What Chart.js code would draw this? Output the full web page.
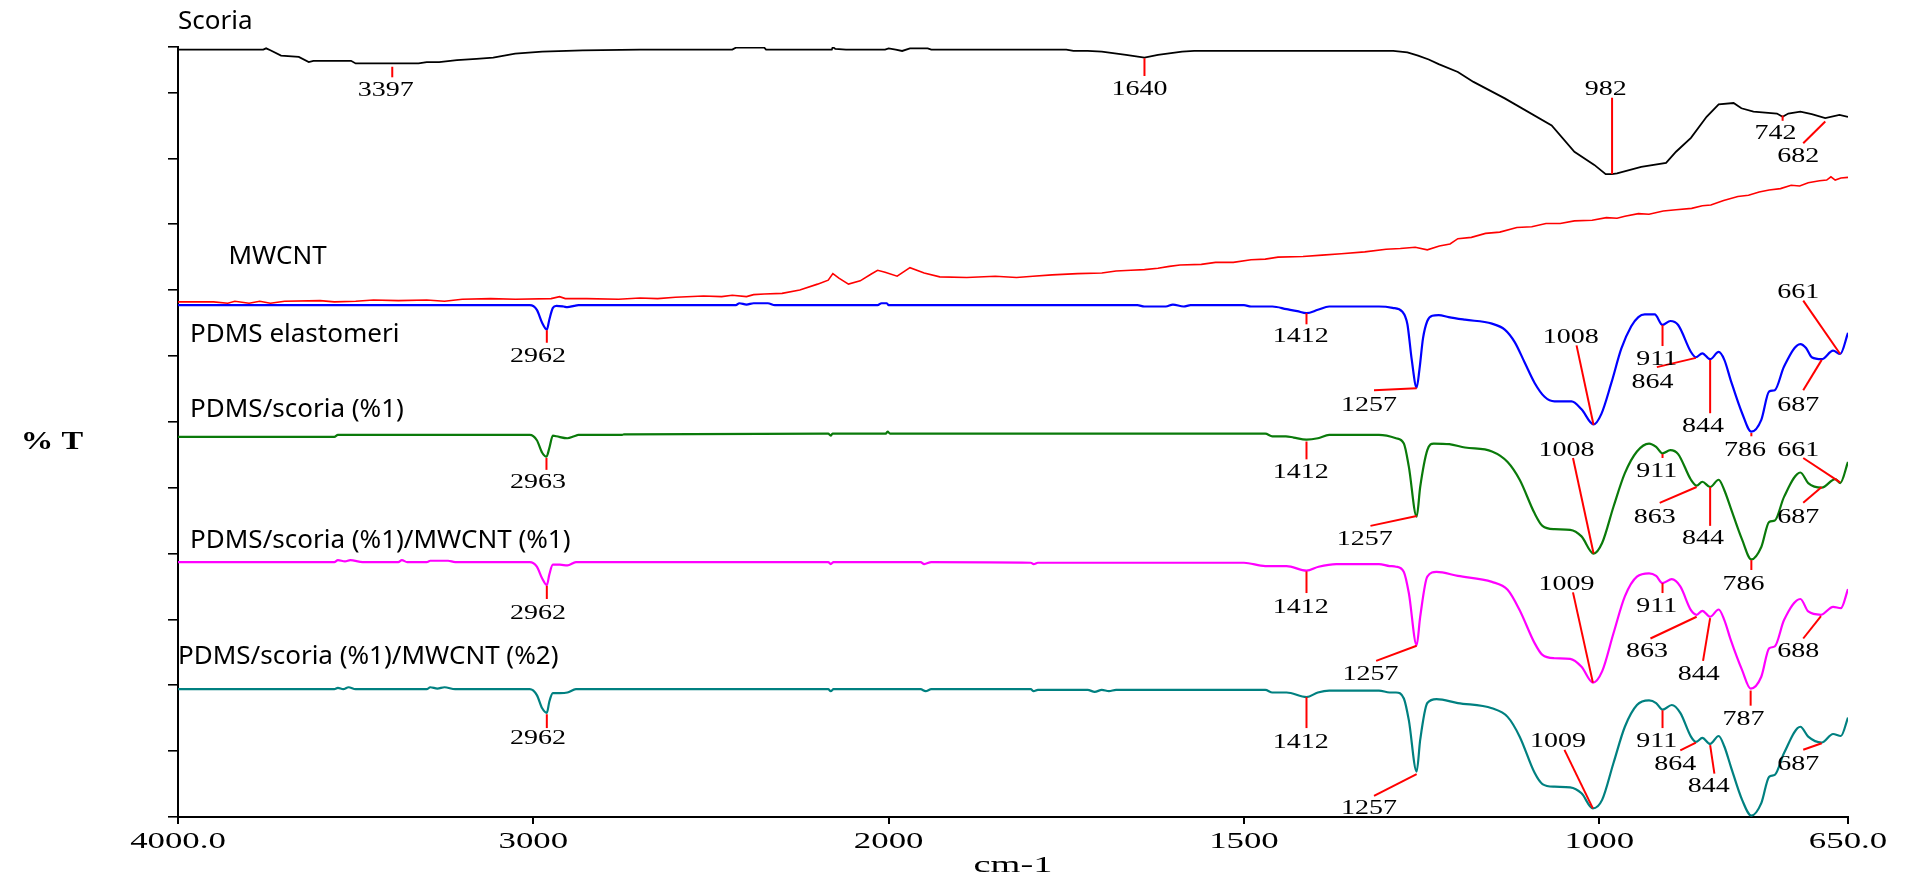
<!DOCTYPE html>
<html>
<head>
<meta charset="utf-8">
<title>FTIR</title>
<script src="https://cdn.jsdelivr.net/npm/chart.js@4.4.1/dist/chart.umd.min.js"></script>
<style>
  html, body { margin: 0; padding: 0; background: #fff; }
</style>
</head>
<body>
<canvas id="ftirChart" width="1912" height="880"></canvas>
<script>
// Stacked FTIR spectra, %T in arbitrary offset units (one axis tick = 10)

const xTicks = [4000, 3000, 2000, 1500, 1000, 650];
const xTickLabels = ['4000.0', '3000', '2000', '1500', '1000', '650.0'];
const yTicks = [0, 10, 20, 30, 40, 50, 60, 70, 80, 90, 100, 110, 116.9];

const scoriaWn = [4000, 3760, 3752, 3740, 3710, 3660, 3632, 3619, 3513, 3500, 3397, 3323, 3300, 3265, 3215, 3160, 3113, 3051, 2975, 2861, 2700, 2440, 2430, 2350, 2345, 2160, 2157, 2150, 2120, 2010, 2000, 1990, 1981, 1970, 1945, 1940, 1750, 1740, 1720, 1700, 1666, 1640, 1621, 1587, 1570, 1290, 1270, 1255, 1240, 1226, 1199, 1177, 1133, 1067, 1035, 1007, 991, 982, 975, 941, 906, 892, 871, 849, 832, 811, 800, 783, 750, 742, 734, 717, 701, 682, 662, 650];
const scoriaT = [116.5, 116.5, 116.7, 116.4, 115.6, 115.4, 114.6, 114.8, 114.8, 114.4, 114.4, 114.4, 114.6, 114.6, 114.9, 115.1, 115.3, 115.9, 116.2, 116.4, 116.5, 116.5, 116.8, 116.8, 116.5, 116.5, 116.9, 116.6, 116.5, 116.5, 116.7, 116.5, 116.3, 116.7, 116.7, 116.5, 116.5, 116.3, 116.3, 116.2, 115.7, 115.3, 115.7, 116.2, 116.3, 116.3, 116.1, 115.6, 115.0, 114.3, 113.1, 111.6, 109.1, 105.0, 101.0, 99.0, 97.6, 97.6, 97.7, 98.7, 99.3, 101.0, 103.1, 106.3, 108.2, 108.4, 107.6, 107.1, 106.8, 106.3, 106.8, 107.1, 106.7, 106.1, 106.6, 106.3];

const mwcntWn = [4000, 3900, 3860, 3840, 3800, 3770, 3740, 3700, 3600, 3560, 3500, 3450, 3380, 3300, 3250, 3200, 3120, 3050, 2950, 2926, 2910, 2850, 2760, 2700, 2650, 2600, 2521, 2470, 2440, 2400, 2380, 2350, 2300, 2250, 2200, 2170, 2157, 2140, 2113, 2080, 2050, 2031, 2010, 1988, 1970, 1950, 1928, 1890, 1850, 1820, 1797, 1770, 1734, 1700, 1680, 1659, 1640, 1621, 1605, 1590, 1560, 1540, 1515, 1490, 1470, 1452, 1417, 1390, 1363, 1330, 1300, 1280, 1259, 1242, 1225, 1210, 1199, 1180, 1160, 1140, 1116, 1095, 1075, 1055, 1035, 1010, 990, 975, 964, 945, 930, 910, 892, 870, 855, 843, 825, 805, 790, 775, 761, 745, 730, 718, 706, 690, 680, 674, 668, 660, 650];
const mwcntT = [78.2, 78.2, 78.0, 78.3, 78.0, 78.3, 78.0, 78.3, 78.4, 78.2, 78.3, 78.5, 78.4, 78.5, 78.3, 78.6, 78.7, 78.6, 78.7, 79.0, 78.7, 78.7, 78.6, 78.8, 78.7, 78.9, 79.1, 79.0, 79.2, 79.0, 79.3, 79.4, 79.5, 80.0, 80.9, 81.5, 82.5, 81.8, 80.9, 81.4, 82.4, 83.0, 82.7, 82.1, 83.4, 82.6, 82.0, 81.9, 82.1, 81.9, 82.1, 82.3, 82.5, 82.6, 82.9, 83.0, 83.1, 83.3, 83.6, 83.8, 83.9, 84.2, 84.2, 84.6, 84.7, 85.0, 85.1, 85.3, 85.5, 85.8, 86.2, 86.3, 86.5, 86.1, 86.7, 87.0, 87.8, 88.0, 88.6, 88.8, 89.5, 89.6, 90.1, 90.1, 90.5, 90.6, 91.0, 90.9, 91.2, 91.6, 91.5, 92.0, 92.2, 92.4, 92.8, 92.9, 93.6, 94.2, 94.4, 94.9, 95.2, 95.4, 95.9, 95.8, 96.3, 96.6, 96.7, 97.2, 96.7, 97.0, 97.1];

const pdmsWn = [4000, 3010, 2990, 2975, 2962, 2955, 2945, 2935, 2915, 2904, 2885, 2873, 2430, 2420, 2400, 2380, 2340, 2320, 2031, 2020, 2005, 2000, 1650, 1640, 1610, 1600, 1585, 1575, 1500, 1490, 1460, 1440, 1425, 1412, 1396, 1380, 1310, 1291, 1277, 1270, 1264, 1257, 1253, 1248, 1242, 1235, 1226, 1212, 1189, 1151, 1133, 1119, 1105, 1091, 1077, 1063, 1039, 1025, 1008, 997, 983, 969, 955, 945, 936, 922, 911, 900, 889, 871, 864, 855, 844, 832, 824, 815, 799, 786, 772, 761, 753, 740, 717, 709, 701, 687, 671, 661, 650];
const pdmsT = [77.7, 77.7, 77.0, 75.0, 74.0, 75.5, 77.3, 77.6, 77.5, 77.4, 77.6, 77.7, 77.7, 78.0, 77.8, 78.0, 78.0, 77.7, 77.7, 78.0, 78.0, 77.7, 77.7, 77.5, 77.5, 77.8, 77.5, 77.7, 77.7, 77.5, 77.5, 77.1, 76.8, 76.5, 77.0, 77.5, 77.5, 77.3, 76.7, 74.8, 69.5, 65.2, 68.0, 72.7, 75.3, 76.1, 76.2, 75.9, 75.5, 74.9, 74.0, 72.1, 69.0, 65.9, 63.8, 63.1, 63.1, 61.9, 59.6, 61.2, 65.9, 71.1, 74.5, 75.9, 76.3, 76.3, 74.7, 75.3, 74.7, 70.6, 69.8, 70.4, 69.5, 70.6, 69.4, 66.3, 61.3, 58.5, 60.3, 64.6, 64.8, 68.4, 71.8, 71.2, 69.8, 69.5, 70.8, 70.3, 73.5];

const scoria1Wn = [4000, 3560, 3550, 3010, 2990, 2975, 2963, 2955, 2945, 2935, 2904, 2885, 2873, 2750, 2745, 2170, 2163, 2158, 2008, 2003, 1998, 1470, 1460, 1441, 1430, 1412, 1396, 1380, 1310, 1286, 1275, 1268, 1257, 1252, 1242, 1233, 1211, 1189, 1151, 1129, 1112, 1091, 1080, 1063, 1041, 1025, 1008, 996, 980, 964, 947, 930, 920, 911, 900, 889, 871, 863, 855, 844, 832, 824, 815, 799, 786, 772, 761, 753, 740, 717, 706, 687, 668, 661, 650];
const scoria1T = [57.7, 57.7, 58.0, 58.0, 57.2, 55.3, 54.7, 56.0, 57.9, 57.8, 57.5, 57.8, 58.0, 58.0, 58.1, 58.2, 57.9, 58.2, 58.2, 58.5, 58.2, 58.2, 57.8, 57.8, 57.6, 57.3, 57.5, 58.0, 58.0, 57.5, 56.7, 53.2, 45.6, 50.1, 55.7, 56.7, 56.6, 56.1, 55.5, 53.9, 51.2, 46.1, 44.2, 43.7, 43.6, 42.6, 40.0, 41.6, 47.1, 52.2, 55.5, 56.7, 56.2, 55.2, 55.7, 55.1, 51.2, 50.3, 50.9, 50.1, 51.2, 49.6, 46.9, 42.1, 39.1, 41.0, 44.8, 45.0, 48.6, 52.3, 50.7, 50.0, 51.3, 50.7, 53.9];

const cnt1Wn = [4000, 3560, 3550, 3530, 3515, 3480, 3380, 3370, 3355, 3300, 3290, 3240, 3220, 3010, 2990, 2975, 2962, 2955, 2945, 2925, 2904, 2880, 2170, 2163, 2155, 1955, 1950, 1940, 1800, 1796, 1790, 1500, 1470, 1440, 1412, 1395, 1370, 1310, 1295, 1286, 1275, 1268, 1257, 1252, 1242, 1229, 1199, 1151, 1129, 1112, 1091, 1080, 1063, 1041, 1025, 1009, 996, 980, 964, 947, 930, 920, 911, 898, 886, 871, 863, 855, 844, 832, 824, 815, 799, 787, 772, 761, 753, 740, 717, 706, 688, 671, 660, 650];
const cnt1T = [38.7, 38.7, 39.0, 38.8, 39.0, 38.7, 38.7, 39.0, 38.7, 38.7, 38.9, 38.9, 38.7, 38.7, 38.0, 36.2, 35.2, 36.8, 38.3, 38.3, 38.2, 38.7, 38.7, 38.4, 38.7, 38.7, 38.4, 38.7, 38.6, 38.4, 38.6, 38.6, 38.1, 38.1, 37.4, 38.0, 38.4, 38.4, 38.1, 38.0, 37.2, 34.0, 26.1, 30.4, 36.5, 37.2, 36.6, 35.7, 34.5, 31.4, 26.4, 24.6, 24.1, 24.0, 22.8, 20.4, 22.1, 27.9, 33.5, 36.5, 37.0, 36.6, 35.5, 36.1, 35.0, 31.4, 30.7, 31.3, 30.4, 31.5, 29.9, 26.9, 22.3, 19.5, 21.3, 25.6, 25.9, 29.9, 33.1, 31.2, 30.7, 31.9, 31.7, 34.6];

const cnt2Wn = [4000, 3560, 3550, 3535, 3520, 3500, 3300, 3290, 3270, 3250, 3220, 3010, 2990, 2975, 2962, 2955, 2945, 2925, 2904, 2880, 2170, 2163, 2155, 1955, 1948, 1940, 1800, 1796, 1790, 1720, 1710, 1700, 1690, 1680, 1470, 1460, 1440, 1412, 1396, 1380, 1310, 1295, 1286, 1275, 1268, 1257, 1252, 1242, 1229, 1199, 1151, 1129, 1112, 1091, 1080, 1063, 1041, 1025, 1009, 996, 980, 964, 947, 930, 920, 911, 898, 886, 871, 864, 855, 844, 832, 824, 815, 799, 786, 772, 761, 753, 740, 717, 706, 687, 671, 660, 650];
const cnt2T = [19.4, 19.4, 19.6, 19.4, 19.7, 19.4, 19.4, 19.7, 19.5, 19.7, 19.4, 19.4, 18.5, 16.5, 15.8, 17.5, 18.8, 18.8, 18.9, 19.4, 19.4, 19.1, 19.4, 19.4, 19.1, 19.4, 19.4, 19.1, 19.3, 19.3, 19.0, 19.3, 19.1, 19.3, 19.3, 18.9, 18.9, 18.2, 18.9, 19.2, 19.2, 18.9, 18.9, 18.0, 14.7, 6.9, 11.7, 17.3, 17.9, 17.3, 16.5, 15.2, 12.2, 6.7, 5.0, 4.6, 4.5, 3.6, 1.3, 2.6, 8.2, 13.7, 17.0, 17.7, 17.3, 16.3, 17.0, 15.8, 12.2, 11.4, 12.0, 11.1, 12.3, 10.7, 7.7, 2.6, 0.2, 2.1, 6.1, 6.4, 9.7, 13.7, 12.2, 11.3, 12.6, 12.3, 15.1];

// series name, baseline start [wavenumber, T]
const seriesNames = [
  ['Scoria', 4000, 119.7],
  ['MWCNT', 3858, 84.0],
  ['PDMS elastomeri', 3966, 72.1],
  ['PDMS/scoria (%1)', 3966, 60.8],
  ['PDMS/scoria (%1)/MWCNT (%1)', 3966, 40.9],
  ['PDMS/scoria (%1)/MWCNT (%2)', 4000, 23.3]
];

// peak label, line tip [wn, T], line end [wn, T], label centre [wn, T]
const peakMarks = [
  ['3397', [3397, 113.9], [3397, 112.3], [3415, 110.2]],
  ['1640', [1640, 115.2], [1640, 112.5], [1647, 110.4]],
  ['982', [982, 97.6], [982, 109.2], [991, 110.4]],
  ['742', [742, 106.5], [742, 105.7], [752, 103.7]],
  ['682', [682, 105.6], [713, 102.3], [720, 100.2]],

  ['2962', [2962, 73.9], [2962, 72.0], [2987, 69.9]],
  ['1412', [1412, 76.5], [1412, 74.8], [1420, 72.9]],
  ['1257', [1257, 65.1], [1317, 64.8], [1324, 62.5]],
  ['1008', [1008, 59.5], [1032, 71.6], [1040, 72.8]],
  ['911', [911, 74.7], [911, 71.5], [919, 69.4]],
  ['864', [864, 69.7], [919, 68.3], [925, 65.9]],
  ['844', [844, 69.4], [844, 61.3], [854, 59.3]],
  ['786', [786, 58.3], [786, 57.8], [795, 55.6]],
  ['661', [661, 70.3], [713, 78.4], [720, 79.6]],
  ['687', [687, 69.4], [713, 64.8], [720, 62.5]],

  ['2963', [2963, 54.5], [2963, 52.7], [2987, 50.7]],
  ['1412', [1412, 57.0], [1412, 54.3], [1420, 52.3]],
  ['1257', [1257, 45.7], [1322, 44.2], [1330, 42.1]],
  ['1008', [1008, 40.0], [1037, 54.5], [1046, 55.6]],
  ['911', [911, 55.1], [911, 54.5], [919, 52.4]],
  ['863', [863, 50.1], [915, 47.7], [922, 45.5]],
  ['844', [844, 50.1], [844, 44.2], [854, 42.2]],
  ['786', [786, 39.0], [786, 37.5], [797, 35.2]],
  ['661', [661, 50.8], [713, 54.5], [720, 55.6]],
  ['687', [687, 50.1], [713, 47.7], [720, 45.5]],

  ['2962', [2962, 35.1], [2962, 33.1], [2987, 30.8]],
  ['1412', [1412, 37.3], [1412, 34.0], [1420, 31.8]],
  ['1257', [1257, 26.0], [1314, 23.7], [1322, 21.6]],
  ['1009', [1009, 20.4], [1037, 34.1], [1046, 35.2]],
  ['911', [911, 35.5], [911, 34.0], [919, 31.9]],
  ['863', [863, 30.4], [928, 27.1], [933, 25.1]],
  ['844', [844, 30.2], [854, 23.7], [860, 21.6]],
  ['787', [787, 19.2], [787, 16.9], [797, 14.7]],
  ['688', [688, 30.5], [713, 27.1], [720, 25.1]],

  ['2962', [2962, 15.6], [2962, 13.5], [2987, 11.9]],
  ['1412', [1412, 18.2], [1412, 13.5], [1420, 11.3]],
  ['1257', [1257, 6.5], [1317, 3.2], [1324, 1.3]],
  ['1009', [1009, 1.3], [1049, 10.2], [1058, 11.4]],
  ['911', [911, 16.2], [911, 13.5], [919, 11.4]],
  ['864', [864, 11.3], [886, 10.1], [893, 7.9]],
  ['844', [844, 10.9], [838, 6.6], [846, 4.6]],
  ['687', [687, 11.2], [713, 10.2], [720, 7.9]]
];

// x axis is split at 2000 cm-1: the low range gets twice the room per unit
const SPLIT = 2000;
function axisSpan(wn) {
  return wn >= SPLIT ? 4000 - wn : (4000 - SPLIT) + 2 * (SPLIT - wn);
}
function spanToWn(s) {
  return s <= 4000 - SPLIT ? 4000 - s : SPLIT - (s - (4000 - SPLIT)) / 2;
}
const SPAN_TOTAL = axisSpan(650);

class WavenumberScale extends Chart.LinearScale {
  getPixelForValue(value) {
    return this.getPixelForDecimal(axisSpan(value) / SPAN_TOTAL);
  }
  getValueForPixel(pixel) {
    return spanToWn(this.getDecimalForPixel(pixel) * SPAN_TOTAL);
  }
}
WavenumberScale.id = 'wavenumber';
WavenumberScale.defaults = Chart.LinearScale.defaults;
Chart.register(WavenumberScale);

function pts(wn, t) {
  return wn.map((w, i) => ({ x: w, y: t[i] }));
}

function line(label, wn, t, color, width, smooth) {
  return {
    label: label,
    data: pts(wn, t),
    borderColor: color,
    borderWidth: width,
    pointRadius: 0,
    fill: false,
    cubicInterpolationMode: smooth ? 'monotone' : 'default',
    tension: 0
  };
}

// serif text squeezed wide, the way the instrument printout renders it
function wideText(ctx, text, x, y, font, stretch) {
  ctx.save();
  ctx.font = font;
  ctx.translate(x, y);
  ctx.scale(stretch, 1);
  ctx.textAlign = 'center';
  ctx.textBaseline = 'middle';
  ctx.fillStyle = '#000';
  ctx.fillText(text, 0, 0);
  ctx.restore();
}

const annotate = {
  id: 'annotate',
  afterDraw(chart) {
    const ctx = chart.ctx;
    const xs = chart.scales.x;
    const ys = chart.scales.y;
    const area = chart.chartArea;

    ctx.save();
    ctx.strokeStyle = '#ff0000';
    ctx.lineWidth = 2;
    peakMarks.forEach(function (m) {
      ctx.beginPath();
      ctx.moveTo(xs.getPixelForValue(m[1][0]), ys.getPixelForValue(m[1][1]));
      ctx.lineTo(xs.getPixelForValue(m[2][0]), ys.getPixelForValue(m[2][1]));
      ctx.stroke();
    });
    ctx.restore();

    peakMarks.forEach(function (m) {
      wideText(ctx, m[0], xs.getPixelForValue(m[3][0]), ys.getPixelForValue(m[3][1]),
        '20px "Liberation Serif"', 1.4);
    });

    // tick labels and axis titles
    xTicks.forEach(function (v, i) {
      wideText(ctx, xTickLabels[i], xs.getPixelForValue(v), area.bottom + 25,
        '24px "Liberation Serif"', 1.45);
    });
    wideText(ctx, 'cm-1', (area.left + area.right) / 2, area.bottom + 49,
      '24px "Liberation Serif"', 1.6);
    wideText(ctx, '% T', 52, 443, 'bold 25px "Liberation Serif"', 1.3);

    ctx.save();
    ctx.font = '26px "Noto Sans"';
    ctx.fillStyle = '#000';
    ctx.textAlign = 'left';
    ctx.textBaseline = 'alphabetic';
    seriesNames.forEach(function (s) {
      ctx.fillText(s[0], xs.getPixelForValue(s[1]), ys.getPixelForValue(s[2]));
    });
    ctx.restore();
  }
};

new Chart(document.getElementById('ftirChart').getContext('2d'), {
  type: 'line',
  data: {
    datasets: [
      line('Scoria', scoriaWn, scoriaT, '#000000', 1.8, false),
      line('MWCNT', mwcntWn, mwcntT, '#ff0000', 1.6, false),
      line('PDMS elastomeri', pdmsWn, pdmsT, '#0000ff', 2.2, true),
      line('PDMS/scoria (%1)', scoria1Wn, scoria1T, '#0a7a0a', 2.2, true),
      line('PDMS/scoria (%1)/MWCNT (%1)', cnt1Wn, cnt1T, '#ff00ff', 2.2, true),
      line('PDMS/scoria (%1)/MWCNT (%2)', cnt2Wn, cnt2T, '#008080', 2.2, true)
    ]
  },
  options: {
    responsive: false,
    animation: false,
    layout: { padding: { left: 168, right: 64, top: 47, bottom: 0 } },
    plugins: {
      legend: { display: false },
      tooltip: { enabled: false }
    },
    scales: {
      x: {
        type: 'wavenumber',
        min: 650,
        max: 4000,
        afterBuildTicks: function (scale) {
          scale.ticks = xTicks.map(v => ({ value: v }));
        },
        afterFit: function (scale) { scale.height = 63; },
        ticks: { display: false },
        border: { display: true, color: '#000', width: 2 },
        grid: { drawOnChartArea: false, drawTicks: true, tickLength: 7, color: '#000', lineWidth: 2 }
      },
      y: {
        type: 'linear',
        min: 0,
        max: 116.9,
        afterBuildTicks: function (scale) {
          scale.ticks = yTicks.map(v => ({ value: v }));
        },
        afterFit: function (scale) { scale.width = 10; },
        ticks: { display: false },
        border: { display: true, color: '#000', width: 2 },
        grid: { drawOnChartArea: false, drawTicks: true, tickLength: 10, color: '#000', lineWidth: 1.6 }
      }
    }
  },
  plugins: [annotate]
});
</script>
</body>
</html>
